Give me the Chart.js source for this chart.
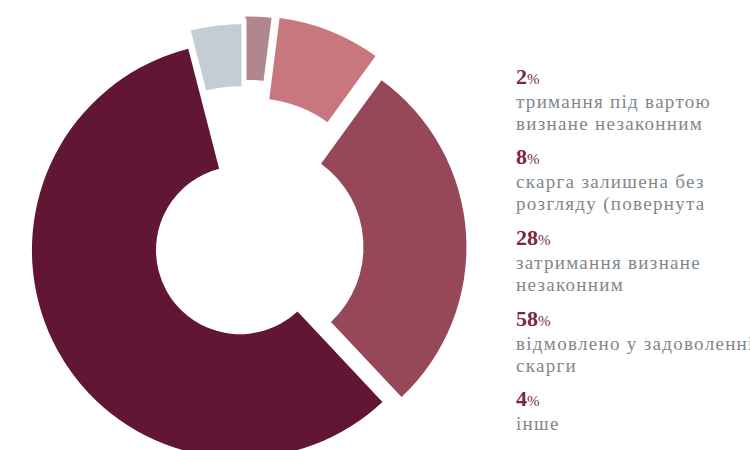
<!DOCTYPE html>
<html>
<head>
<meta charset="utf-8">
<script src="https://cdn.jsdelivr.net/npm/chart.js@4"></script>
<style>
  html, body { margin: 0; padding: 0; background: #fff; overflow: hidden; }
  body { width: 750px; height: 450px; position: relative; }
  #wrap { position: absolute; left: 0; top: 0; width: 488px; height: 496px; }
  #legend { position: absolute; left: 516px; top: 0; font-family: "Liberation Serif", serif; white-space: nowrap; }
  .item { position: absolute; left: 0; }
  .num { color: #7a2743; font-weight: bold; font-size: 22px; line-height: 23px; }
  .num small { font-size: 15px; font-weight: normal; }
  .txt { color: #7f878d; font-size: 19px; line-height: 22px; letter-spacing: 1.3px; }
</style>
</head>
<body>
<div id="wrap"><canvas id="donut"></canvas></div>
<div id="legend"></div>
<script>
// data, clockwise from the top
const values = [2, 8, 28, 58, 4];
const labels = [
  ["тримання під вартою", "визнане незаконним"],
  ["скарга залишена без", "розгляду (повернута"],
  ["затримання визнане", "незаконним"],
  ["відмовлено у задоволенні", "скарги"],
  ["інше"]
];
const colors = ["#b0878e", "#c9777f", "#964758", "#611633", "#c5cdd4"];

// slice shape, as fractions of the library radius
const innerFrac = [0.695, 0.524, 0.429, 0.35, 0.665];
const outerFrac = [0.972, 0.865, 0.858, 0.867, 0.944];
const offsetFrac = [0, 0.108, 0.069, 0.019, 0];
const gapWidth = [3, 0, 0, 0, 5];

const sliceShape = {
  id: "sliceShape",
  afterDatasetsUpdate(chart) {
    const meta = chart.getDatasetMeta(0);
    meta.data.forEach((arc, i) => {
      const base = arc.outerRadius;
      const mid = (arc.startAngle + arc.endAngle) / 2;
      const shift = offsetFrac[i] * base;
      arc.x += Math.cos(mid) * shift;
      arc.y += Math.sin(mid) * shift;
      arc.innerRadius = innerFrac[i] * base;
      arc.outerRadius = outerFrac[i] * base;
    });
  }
};

new Chart(document.getElementById("donut"), {
  type: "doughnut",
  data: {
    labels: labels.map(l => l.join(" ")),
    datasets: [
      {
        data: values,
        backgroundColor: colors,
        borderColor: "#ffffff",
        borderWidth: gapWidth,
        borderJoinStyle: "miter",
      },
    ],
  },
  options: {
    responsive: true,
    maintainAspectRatio: false,
    animation: false,
    events: [],
    radius: 240,
    cutout: 0,
    layout: { padding: 0 },
    plugins: {
      legend: { display: false },
      tooltip: { enabled: false },
    },
  },
  plugins: [sliceShape],
});

// legend on the right
const legend = document.getElementById("legend");
values.forEach((v, i) => {
  const item = document.createElement("div");
  item.className = "item";
  item.style.top = (64.7 + i * 80.6) + "px";
  let html = '<div class="num">' + v + "<small>%</small></div>";
  labels[i].forEach(line => {
    html += '<div class="txt">' + line + "</div>";
  });
  item.innerHTML = html;
  legend.appendChild(item);
});
</script>
</body>
</html>
